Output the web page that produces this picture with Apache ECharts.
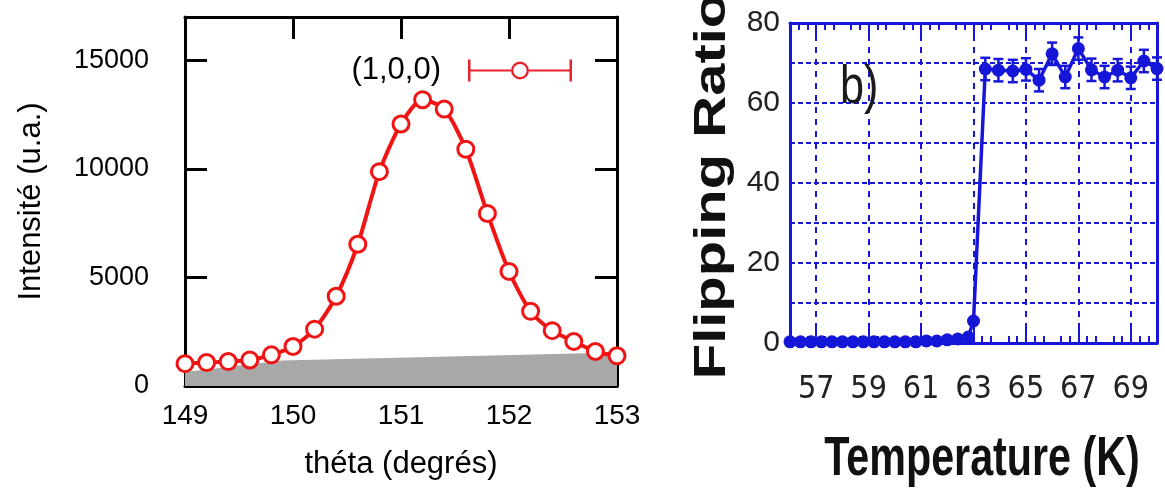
<!DOCTYPE html>
<html><head><meta charset="utf-8">
<script src="https://cdn.jsdelivr.net/npm/echarts@6/dist/echarts.min.js"></script>
<style>html,body{margin:0;padding:0;background:#fff}#c{width:1165px;height:490px}</style>
</head><body><div id="c"></div>
<script>
// ---- Left panel data ----
const thetaDeg = [149.0,149.2,149.4,149.6,149.8,150.0,150.2,150.4,150.6,150.8,151.0,151.2,151.4,151.6,151.8,152.0,152.2,152.4,152.6,152.8,153.0];
const intensity = [1030,1080,1125,1200,1435,1820,2620,4135,6530,9875,12070,13190,12760,10910,7950,5280,3440,2550,2050,1590,1390];
const bgTheta = [149.0,149.9,153.0];
const bgIntensity = [640,1180,1540];
const seriesName = '(1,0,0)';

// ---- Right panel data ----
const tempK = [56.0,56.4,56.8,57.2,57.6,58.0,58.4,58.8,59.2,59.6,60.0,60.4,60.8,61.2,61.6,62.0,62.4,62.8,63.0,63.45,63.95,64.5,65.0,65.5,66.0,66.5,67.0,67.5,68.0,68.5,69.0,69.5,70.0];
const flipRatio = [0.3,0.3,0.3,0.3,0.3,0.3,0.3,0.3,0.3,0.3,0.3,0.3,0.3,0.5,0.5,0.8,1.0,1.5,5.5,68.5,68.2,68.0,68.4,65.7,72.3,66.5,73.6,68.3,66.5,68.2,66.3,70.5,68.6];
const flipErr = [0,0,0,0,0,0,0,0,0,0,0,0,0,0,0,0,0,0,0,2.8,2.8,2.8,2.8,2.8,2.8,2.8,2.8,2.8,2.8,2.8,2.8,2.8,2.8];
const tempTickVals = [57,59,61,63,65,67,69];
const flipLabelVals = [0,20,40,60,80];

const RED = '#f01414';
const BLUE = '#1616d8';
const FF = "'Liberation Sans', Arial, sans-serif";
const FFN = "'Liberation Sans Narrow', 'DejaVu Sans Condensed', sans-serif";

const chart = echarts.init(document.getElementById('c'), null, {renderer: 'canvas'});

const legendIcon = 'path://M0,0 H2.5 V22 H0 Z M101.5,0 H104 V22 H101.5 Z M2.5,10 H43 V12 H2.5 Z M61,10 H101.5 V12 H61 Z M52,2 A9,9 0 1,0 52,20 A9,9 0 1,0 52,2 Z M52,4.4 A6.6,6.6 0 1,1 52,17.6 A6.6,6.6 0 1,1 52,4.4 Z';

const blackLine = {show: true, onZero: false, lineStyle: {color: '#000', width: 3}};
const blueLine = {show: true, onZero: false, lineStyle: {color: BLUE, width: 3}};

const option = {
  animation: false,
  backgroundColor: '#fff',
  grid: [
    {left: 185, right: 548, top: 17, bottom: 104, outerBoundsMode: 'none'},
    {left: 790, right: 8, top: 23, bottom: 147, outerBoundsMode: 'none'}
  ],
  legend: {
    data: [{name: seriesName, icon: legendIcon}],
    right: 588, top: 50, align: 'right',
    itemWidth: 104, itemHeight: 22,
    selectedMode: false,
    itemStyle: {color: '#e8222c', borderWidth: 0},
    textStyle: {fontSize: 31, color: '#000', fontFamily: FF, padding: [0, 22, 0, 0]}
  },
  xAxis: [
    {gridIndex: 0, type: 'value', position: 'bottom', min: 149, max: 153, interval: 1,
     axisLine: blackLine,
     axisTick: {show: true, inside: true, length: 22, lineStyle: {color: '#000', width: 3}},
     axisLabel: {fontSize: 28, color: '#000', fontFamily: FF, margin: 16},
     splitLine: {show: false},
     name: 'théta (degrés)', nameLocation: 'middle', nameGap: 63,
     nameTextStyle: {fontSize: 31, color: '#000', fontFamily: FF}},
    {gridIndex: 0, type: 'value', position: 'top', min: 149, max: 153, interval: 1,
     axisLine: blackLine,
     axisTick: {show: true, inside: true, length: 22, lineStyle: {color: '#000', width: 3}},
     axisLabel: {show: false}, splitLine: {show: false}},
    {gridIndex: 1, type: 'value', position: 'bottom', min: 56, max: 70, interval: 2,
     axisLine: blueLine,
     axisTick: {show: true, inside: true, length: 17, customValues: tempTickVals, lineStyle: {color: BLUE, width: 2}},
     minorTick: {show: true, splitNumber: 6, length: 7, lineStyle: {color: BLUE, width: 2}},
     axisLabel: {customValues: tempTickVals, fontSize: 32, color: '#222', fontFamily: FFN, margin: 31},
     splitLine: {show: true, lineStyle: {color: BLUE, width: 2, type: [6, 6]}}},
    {gridIndex: 1, type: 'value', position: 'top', min: 56, max: 70, interval: 2,
     axisLine: blueLine,
     axisTick: {show: true, inside: true, length: 17, customValues: tempTickVals, lineStyle: {color: BLUE, width: 2}},
     minorTick: {show: true, splitNumber: 6, length: 7, lineStyle: {color: BLUE, width: 2}},
     axisLabel: {show: false}, splitLine: {show: false}}
  ],
  yAxis: [
    {gridIndex: 0, type: 'value', position: 'left', min: 0, max: 17000, interval: 5000,
     axisLine: blackLine,
     axisTick: {show: true, inside: true, length: 22, lineStyle: {color: '#000', width: 3}},
     axisLabel: {fontSize: 27, color: '#000', fontFamily: FF, margin: 36, showMaxLabel: false,
                 formatter: v => String(v)},
     splitLine: {show: false},
     name: 'Intensité (u.a.)', nameLocation: 'middle', nameGap: 138,
     nameTextStyle: {fontSize: 31, color: '#000', fontFamily: FF}},
    {gridIndex: 0, type: 'value', position: 'right', min: 0, max: 17000, interval: 5000,
     axisLine: blackLine,
     axisTick: {show: true, inside: true, length: 22, lineStyle: {color: '#000', width: 3}},
     axisLabel: {show: false}, splitLine: {show: false}},
    {gridIndex: 1, type: 'value', position: 'left', min: 0, max: 80, interval: 10,
     axisLine: blueLine,
     axisTick: {show: false},
     axisLabel: {fontSize: 30, color: '#222', fontFamily: FF, margin: 10,
                 formatter: v => flipLabelVals.indexOf(v) >= 0 ? String(v) : ''},
     splitLine: {show: true, lineStyle: {color: BLUE, width: 2, type: [5, 3]}}},
    {gridIndex: 1, type: 'value', position: 'right', min: 0, max: 80, interval: 10,
     axisLine: blueLine, axisTick: {show: false}, axisLabel: {show: false}, splitLine: {show: false}}
  ],
  series: [
    {type: 'line', name: 'background', xAxisIndex: 0, yAxisIndex: 0,
     data: bgTheta.map((t, i) => [t, bgIntensity[i]]),
     symbol: 'none', lineStyle: {width: 0}, areaStyle: {color: '#a8a8a8', opacity: 1}, z: 1, silent: true},
    {type: 'line', name: seriesName, xAxisIndex: 0, yAxisIndex: 0,
     data: thetaDeg.map((t, i) => [t, intensity[i]]),
     smooth: 0.25, symbol: 'circle', symbolSize: 16, clip: false,
     lineStyle: {color: RED, width: 4},
     itemStyle: {color: '#fff', borderColor: RED, borderWidth: 3}, z: 3},
    {type: 'line', name: 'flip', xAxisIndex: 2, yAxisIndex: 2,
     data: tempK.map((t, i) => [t, flipRatio[i]]),
     symbol: 'circle', symbolSize: 13, clip: false,
     lineStyle: {color: BLUE, width: 3.5}, itemStyle: {color: BLUE}, z: 4},
    {type: 'custom', name: 'flipErr', xAxisIndex: 2, yAxisIndex: 2,
     data: tempK.map((t, i) => [t, flipRatio[i], flipErr[i]]),
     z: 4,
     renderItem: function (params, api) {
       const x = api.value(0), y = api.value(1), e = api.value(2);
       if (!e) return null;
       const top = api.coord([x, y + e]);
       const bot = api.coord([x, y - e]);
       const w = 5;
       const st = {stroke: BLUE, lineWidth: 2.5};
       return {type: 'group', children: [
         {type: 'line', shape: {x1: top[0], y1: top[1], x2: bot[0], y2: bot[1]}, style: st},
         {type: 'line', shape: {x1: top[0] - w, y1: top[1], x2: top[0] + w, y2: top[1]}, style: st},
         {type: 'line', shape: {x1: bot[0] - w, y1: bot[1], x2: bot[0] + w, y2: bot[1]}, style: st}
       ]};
     }}
  ],
  graphic: [
    {type: 'text', x: 713, y: 186, rotation: Math.PI / 2, scaleY: 0.75,
     style: {text: 'Flipping Ratio', fontSize: 58, fontWeight: 'bold', fontFamily: FF, fill: '#111', align: 'center', verticalAlign: 'middle'}},
    {type: 'text', x: 982, y: 460, scaleX: 0.75,
     style: {text: 'Temperature (K)', fontSize: 55, fontWeight: 'bold', fontFamily: FF, fill: '#111', align: 'center', verticalAlign: 'middle'}},
    {type: 'text', x: 840, y: 88, scaleX: 0.8, z: 10,
     style: {text: 'b)', fontSize: 54, fontFamily: FF, fill: '#1a1a1a', align: 'left', verticalAlign: 'middle'}}
  ]
};
chart.setOption(option);
</script>
</body></html>
